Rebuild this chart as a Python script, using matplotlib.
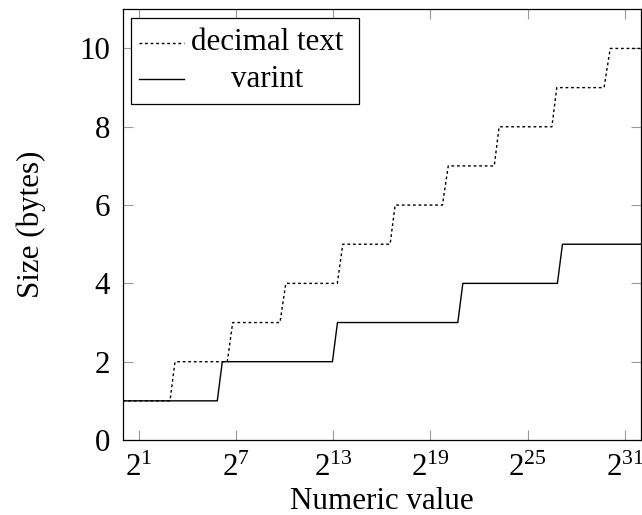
import numpy as np
import matplotlib
matplotlib.use("Agg")
import matplotlib.pyplot as plt
from matplotlib.ticker import FixedLocator, FixedFormatter, NullLocator
from matplotlib.patches import Rectangle
from matplotlib.lines import Line2D

plt.rcParams['font.family'] = ['Liberation Serif', 'DejaVu Serif']
plt.rcParams['mathtext.fontset'] = 'custom'
plt.rcParams['mathtext.rm'] = 'Liberation Serif'
plt.rcParams['mathtext.it'] = 'Liberation Serif:italic'

# ---- data (x given as log2 of the numeric value) ----
decimal_log2x = [0, 2.92, 3.23, 6.46, 6.79, 9.71, 10.07, 13.25, 13.59, 16.51, 16.82,
                 19.74, 20.10, 22.94, 23.24, 26.50, 26.80, 29.72, 30.10, 32]
decimal_bytes = [1, 1, 2, 2, 3, 3, 4, 4, 5, 5, 6, 6, 7, 7, 8, 8, 9, 9, 10, 10]

varint_log2x = [0, 5.84, 6.15, 12.95, 13.26, 20.69, 21.00, 26.84, 27.15, 32]
varint_bytes = [1, 1, 2, 2, 3, 3, 4, 4, 5, 5]

xtick_exps = [1, 7, 13, 19, 25, 31]
xtick_labels = [r'$2^{%d}$' % e for e in xtick_exps]
yticks = [0, 2, 4, 6, 8, 10]

series_labels = ['decimal text', 'varint']

W, H = 642, 515
fig = plt.figure(figsize=(W / 100, H / 100), dpi=100)
ax = fig.add_axes([122.7 / W, 1 - 440 / H, (641 - 122.7) / W, (440 - 9.3) / H])

fs = 22.3
dotted = (0, (2.0, 2.0))

ax.plot(2.0 ** np.array(decimal_log2x), decimal_bytes, color='black', lw=1.0,
        linestyle=dotted)
ax.plot(2.0 ** np.array(varint_log2x), varint_bytes, color='black', lw=1.0)

ax.set_xscale('log', base=2)
ax.set_xlim(1, 2.0 ** 32)
ax.set_ylim(0, 11)

ax.xaxis.set_major_locator(FixedLocator([2.0 ** e for e in xtick_exps]))
ax.xaxis.set_major_formatter(FixedFormatter(xtick_labels))
ax.xaxis.set_minor_locator(NullLocator())
ax.set_yticks(yticks)
ax.set_yticklabels([str(v) for v in yticks])

ax.tick_params(which='both', direction='in', top=True, right=True,
               color='0.6', length=7.5, width=0.8, labelsize=fs)
ax.tick_params(axis='x', pad=10)
ax.tick_params(axis='y', pad=9)
for s in ax.spines.values():
    s.set_linewidth(0.9)

ax.set_xlabel('Numeric value', fontsize=fs, labelpad=3)
ax.set_ylabel('Size (bytes)', fontsize=fs, labelpad=24)

# ---- legend drawn in figure pixel coords ----
def P(x, y):
    return (x / W, 1 - y / H)

lx0, ly0 = P(130.7, 103.7)
lx1, ly1 = P(359.3, 18.3)
fig.patches.append(Rectangle((lx0, ly0), lx1 - lx0, ly1 - ly0, transform=fig.transFigure,
                             facecolor='white', edgecolor='black', lw=0.9, zorder=5))
for yy, style, lab in [(42.7, dotted, series_labels[0]), (79.3, '-', series_labels[1])]:
    a, b = P(139.3, yy)
    c, d = P(184.0, yy)
    fig.lines.append(Line2D([a, c], [b, d], transform=fig.transFigure, color='black',
                            lw=1.0, linestyle=style, zorder=6))
    tx, ty = P(267.0, yy)
    fig.text(tx, ty, lab, fontsize=fs, ha='center', va='center', zorder=7)

fig.savefig('out.png', dpi=100)
